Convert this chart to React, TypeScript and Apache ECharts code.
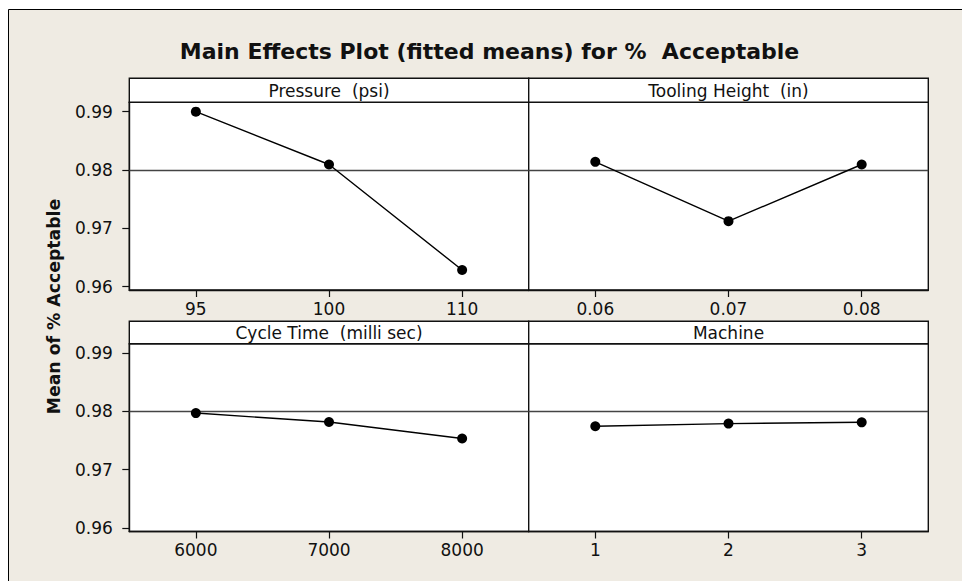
import React, { useEffect, useRef } from "react";
import * as echarts from "echarts";

const title = "Main Effects Plot (fitted means) for %  Acceptable";
const yName = "Mean of % Acceptable";
const panelTitles = ["Pressure  (psi)", "Tooling Height  (in)", "Cycle Time  (milli sec)", "Machine"];
const pressureLevels = ["95", "100", "110"];
const pressureMeans = [0.99, 0.98093, 0.96283];
const toolingLevels = ["0.06", "0.07", "0.08"];
const toolingMeans = [0.98138, 0.97121, 0.98093];
const cycleLevels = ["6000", "7000", "8000"];
const cycleMeans = [0.97971, 0.97817, 0.97534];
const machineLevels = ["1", "2", "3"];
const machineMeans = [0.97744, 0.9779, 0.97812];
const grandMean = 0.9778;
const yTicks = [0.96, 0.97, 0.98, 0.99];
const yMin = 0.9594;
const yMax = 0.9916;

const FONT = "DejaVu Sans";

export default function App() {
  const ref = useRef<HTMLDivElement>(null);
  useEffect(() => {
    if (!ref.current) return;
    const chart = echarts.init(ref.current, null, { renderer: "svg" });
    const cats = [pressureLevels, toolingLevels, cycleLevels, machineLevels];
    const vals = [pressureMeans, toolingMeans, cycleMeans, machineMeans];
    const L = 129.3, M = 528.7, R = 928.3;
    const rows = [
      { stripTop: 78.3, top: 102.3, bottom: 290 },
      { stripTop: 321.2, top: 343.7, bottom: 531.5 },
    ];
    const grids: any[] = [];
    const xAxes: any[] = [];
    const yAxes: any[] = [];
    const series: any[] = [];
    const graphics: any[] = [
      {
        type: "rect",
        shape: { x: 8.5, y: 9.5, width: 980, height: 600 },
        style: { fill: "#efebe3", stroke: "#000", lineWidth: 1 },
        silent: true,
        z: -10,
      },
      {
        type: "text",
        x: 489.5,
        y: 51.5,
        style: {
          text: title,
          font: `bold 22px "${FONT}"`,
          fill: "#111",
          align: "center",
          verticalAlign: "middle",
        },
      },
      {
        type: "text",
        x: 54,
        y: 306.5,
        rotation: Math.PI / 2,
        style: {
          text: yName,
          font: `bold 17.3px "${FONT}"`,
          fill: "#111",
          align: "center",
          verticalAlign: "middle",
        },
      },
    ];
    for (let i = 0; i < 4; i++) {
      const row = rows[Math.floor(i / 2)];
      const left = i % 2 === 0 ? L : M;
      const right = i % 2 === 0 ? M : R;
      grids.push({
        left,
        top: row.top,
        width: right - left,
        height: row.bottom - row.top,
        show: true,
        backgroundColor: "#fff",
        borderColor: "#111",
        borderWidth: 1.4,
      });
      graphics.push({
        type: "rect",
        shape: { x: left, y: row.stripTop, width: right - left, height: row.top - row.stripTop },
        style: { fill: "#fff", stroke: "#111", lineWidth: 1.4 },
        silent: true,
      });
      graphics.push({
        type: "text",
        x: (left + right) / 2,
        y: (row.stripTop + row.top) / 2 + 0.5,
        style: {
          text: panelTitles[i],
          font: `17px "${FONT}"`,
          fill: "#111",
          align: "center",
          verticalAlign: "middle",
        },
      });
      xAxes.push({
        type: "category",
        gridIndex: i,
        data: cats[i],
        boundaryGap: true,
        axisLine: { show: true, lineStyle: { color: "#111", width: 1.4 } },
        axisTick: { show: true, alignWithLabel: true, length: 7, lineStyle: { color: "#111", width: 1.2 } },
        axisLabel: { margin: 10, fontFamily: FONT, fontSize: 17, color: "#111" },
        splitLine: { show: false },
      });
      const showY = i % 2 === 0;
      yAxes.push({
        type: "value",
        gridIndex: i,
        min: yMin,
        max: yMax,
        show: showY,
        axisLine: { show: true, lineStyle: { color: "#111", width: 1.4 } },
        axisTick: { show: true, length: 7, customValues: yTicks, lineStyle: { color: "#111", width: 1.2 } },
        axisLabel: {
          margin: 16.5,
          fontFamily: FONT,
          fontSize: 17,
          color: "#111",
          customValues: yTicks,
          formatter: (v: number) => v.toFixed(2),
        },
        splitLine: { show: false },
      });
      series.push({
        type: "line",
        xAxisIndex: i,
        yAxisIndex: i,
        data: vals[i],
        symbol: "circle",
        symbolSize: 10,
        lineStyle: { color: "#000", width: 1.4 },
        itemStyle: { color: "#000" },
        z: 3,
        markLine: {
          silent: true,
          symbol: ["none", "none"],
          label: { show: false },
          lineStyle: { color: "#444", width: 1.3, type: "solid" },
          data: [{ yAxis: grandMean }],
          z: 2,
        },
      });
    }
    chart.setOption({
      animation: false,
      backgroundColor: "#fff",
      grid: grids,
      xAxis: xAxes,
      yAxis: yAxes,
      series,
      graphic: graphics,
    });
    return () => chart.dispose();
  }, []);
  return (
    <div
      ref={ref}
      style={{ position: "fixed", left: 0, top: 0, width: 962, height: 581 }}
    />
  );
}
